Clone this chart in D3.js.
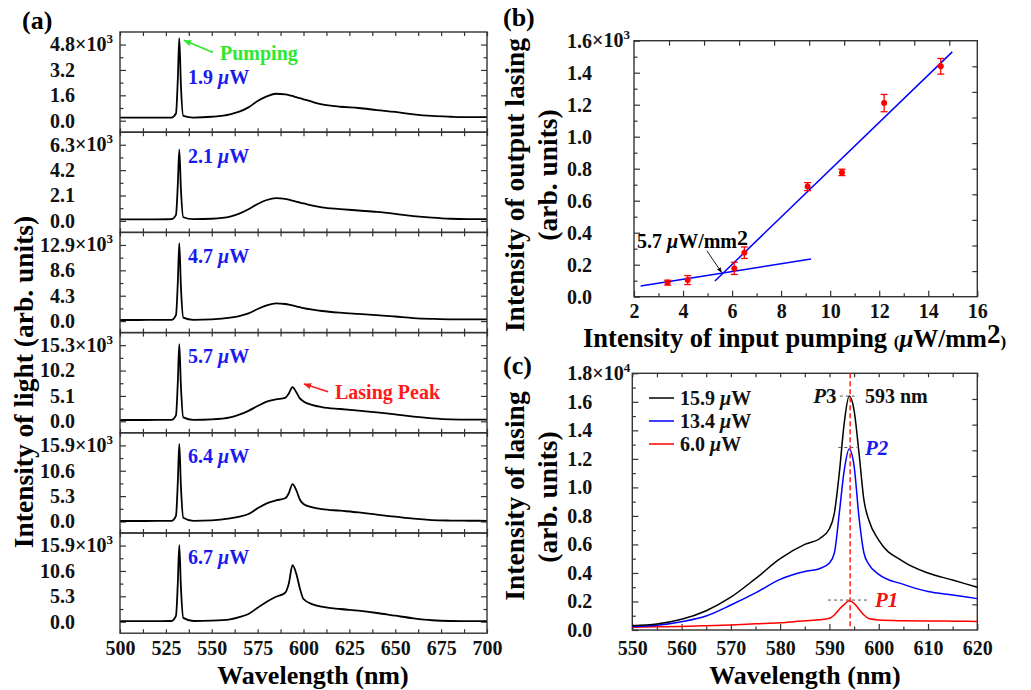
<!DOCTYPE html>
<html><head><meta charset="utf-8">
<script src="https://cdn.jsdelivr.net/npm/d3@7"></script>
<style>
body{margin:0;background:#fff}
text{font-family:"Liberation Serif","Times New Roman",serif;font-weight:bold}
</style>
</head><body>
<svg id="chart" width="1031" height="690"></svg>
<script>
// ---------------- DATA ----------------
// Panel (a): emission spectra (x10^3 arb. units)
const waveA = [500,510,520,528,530.5,531.5,532.3,533.2,534.5,540,550,560,565,570,575,580,585,590,592,594,596,598,600,605,610,620,630,640,650,660,670,680,690,700];
const spec19 = [0.19,0.19,0.2,0.2,0.45,2.6,5.2,2.2,0.3,0.2,0.25,0.4,0.57,0.84,1.24,1.53,1.7,1.66,1.62,1.56,1.48,1.42,1.35,1.18,1.03,0.88,0.8,0.67,0.55,0.4,0.3,0.25,0.22,0.22];
const spec21 = [0.13,0.13,0.13,0.14,0.5,3.0,5.9,2.6,0.3,0.14,0.18,0.35,0.6,0.96,1.4,1.73,1.88,1.83,1.76,1.68,1.6,1.52,1.45,1.27,1.12,0.98,0.86,0.74,0.58,0.4,0.27,0.18,0.15,0.15];
const spec47 = [0.19,0.19,0.2,0.2,1.0,6.5,13.2,5.8,0.6,0.22,0.3,0.58,0.85,1.3,2.05,2.67,3.0,2.9,2.8,2.65,2.5,2.35,2.2,1.93,1.71,1.42,1.22,1.03,0.78,0.52,0.38,0.3,0.3,0.3];
const spec57 = [0.26,0.26,0.27,0.3,1.2,7.8,15.5,7.0,0.8,0.3,0.4,0.8,1.35,2.1,3.07,3.94,4.4,4.7,5.6,6.85,5.9,4.6,4.0,3.27,2.87,2.47,2.13,1.8,1.4,0.92,0.6,0.4,0.35,0.33];
const spec64 = [0.1,0.1,0.12,0.15,1.2,8.2,16.2,7.3,0.8,0.15,0.25,0.66,1.0,1.57,2.75,3.8,4.4,4.85,5.9,7.8,6.6,4.6,3.65,2.95,2.6,2.25,1.9,1.42,1.0,0.58,0.3,0.2,0.16,0.15];
const spec67 = [0.1,0.1,0.12,0.15,1.2,8.0,16.0,7.2,0.8,0.15,0.22,0.5,0.95,1.6,2.92,4.17,5.2,6.05,8.0,11.8,10.1,7.0,4.74,3.63,3.13,2.65,2.3,1.82,1.25,0.7,0.3,0.15,0.13,0.13];
const spectraA = [spec19,spec21,spec47,spec57,spec64,spec67];
const powerLabelsA = ["1.9","2.1","4.7","5.7","6.4","6.7"];
const yTicksA = [[0,1.6,3.2,4.8],[0,2.1,4.2,6.3],[0,4.3,8.6,12.9],[0,5.1,10.2,15.3],[0,5.3,10.6,15.9],[0,5.3,10.6,15.9]];
const xTicksA = [500,525,550,575,600,625,650,675,700];

// Panel (b): output lasing vs pump (x10^3)
const pumpB = [3.37,4.19,6.09,6.5,9.08,10.48,12.2,14.51];
const lasingB = [0.088,0.104,0.177,0.275,0.688,0.777,1.21,1.44];
const errB = [0.015,0.028,0.038,0.036,0.025,0.02,0.054,0.049];
const fitLowB = [[2.27,0.067],[9.22,0.236]];
const fitHighB = [[5.3,0.098],[14.98,1.53]];
const xTicksB = [2,4,6,8,10,12,14,16];
const yTicksB = [0,0.2,0.4,0.6,0.8,1.0,1.2,1.4,1.6];

// Panel (c): lasing spectra (x10^4)
const waveC = [550,555,560,565,570,575,580,585,588,590,591,592,593,594,595,596,597,598,600,605,610,615,620];
const lase159 = [0.03,0.042,0.075,0.135,0.23,0.36,0.5,0.6,0.64,0.71,0.82,1.1,1.45,1.64,1.54,1.24,0.91,0.77,0.63,0.48,0.4,0.35,0.30];
const lase134 = [0.023,0.033,0.058,0.098,0.175,0.26,0.355,0.41,0.43,0.47,0.54,0.82,1.12,1.27,1.15,0.79,0.54,0.46,0.39,0.32,0.27,0.245,0.22];
const lase60  = [0.019,0.022,0.025,0.03,0.035,0.043,0.051,0.065,0.072,0.082,0.105,0.145,0.18,0.205,0.187,0.145,0.105,0.08,0.07,0.065,0.063,0.062,0.06];
const seriesC = [
  {label:"15.9", values:lase159, color:"#000000"},
  {label:"13.4", values:lase134, color:"#0000ff"},
  {label:"6.0",  values:lase60,  color:"#ff0000"}
];
const xTicksC = [550,560,570,580,590,600,610,620];
const yTicksC = [0,0.2,0.4,0.6,0.8,1.0,1.2,1.4,1.6,1.8];
const peakWaveC = 594.2;
const peakLevelsC = [1.64,1.28,0.21];

// ---------------- DRAW ----------------
const svg = d3.select("#chart");
const FONT = '"Liberation Serif","Times New Roman",serif';
const frameColor = "#333";

function styleAxis(g, size){
  g.select(".domain").remove();
  g.attr("font-family", FONT).attr("font-size", size||20).attr("font-weight","bold");
  g.selectAll(".tick line").attr("stroke", frameColor).attr("stroke-width",1.2);
  g.selectAll(".tick text").attr("fill","#111");
}
function appendExp(x, y, exp){
  const t = svg.append("text").attr("x",x).attr("y",y).attr("dy","0.32em")
    .attr("font-size",20).attr("fill","#111").text("×10");
  t.append("tspan").attr("font-size",13).attr("dy",-8).text(exp);
}
function muText(sel, before, after){
  sel.append("tspan").text(before);
  sel.append("tspan").attr("font-style","italic").text("μ");
  sel.append("tspan").text(after);
}

// ===== Panel (a) =====
const xA = d3.scaleLinear().domain([500,700]).range([120,487]);
const topA = 32, hA = 100.2;
const lineA = d3.line().curve(d3.curveMonotoneX);
let yScalesA = [];
spectraA.forEach((vals,i)=>{
  const ticks = yTicksA[i];
  const M = ticks[ticks.length-1];
  const t = topA + i*hA;
  const y = d3.scaleLinear().domain([-0.151*M, 1.165*M]).range([t+hA, t]);
  yScalesA.push(y);
  const g = svg.append("g");
  const minor = [1,3,5].map(k=>k*M/6);
  const minorX = d3.range(512.5,700,25);
  g.append("g").attr("transform",`translate(${xA(500)},0)`)
    .call(d3.axisLeft(y).tickValues(ticks).tickSize(-6).tickPadding(45).tickFormat(d3.format(".1f")))
    .call(s=>styleAxis(s));
  g.append("g").attr("transform",`translate(${xA(500)},0)`)
    .call(d3.axisLeft(y).tickValues(minor).tickSize(-3.5).tickFormat(""))
    .call(s=>styleAxis(s));
  g.append("g").attr("transform",`translate(${xA(700)},0)`)
    .call(d3.axisRight(y).tickValues(ticks).tickSize(-6).tickFormat(""))
    .call(s=>styleAxis(s));
  g.append("g").attr("transform",`translate(${xA(700)},0)`)
    .call(d3.axisRight(y).tickValues(minor).tickSize(-3.5).tickFormat(""))
    .call(s=>styleAxis(s));
  g.append("g").attr("transform",`translate(0,${t})`)
    .call(d3.axisTop(xA).tickValues(xTicksA.concat(minorX)).tickSize(-4).tickFormat(""))
    .call(s=>styleAxis(s));
  const bottom = g.append("g").attr("transform",`translate(0,${t+hA})`);
  if(i===spectraA.length-1){
    bottom.call(d3.axisBottom(xA).tickValues(xTicksA).tickSize(-4).tickPadding(8).tickFormat(d3.format("d"))).call(s=>styleAxis(s));
    g.append("g").attr("transform",`translate(0,${t+hA})`)
      .call(d3.axisBottom(xA).tickValues(minorX).tickSize(-4).tickFormat("")).call(s=>styleAxis(s));
  } else {
    bottom.call(d3.axisBottom(xA).tickValues(xTicksA.concat(minorX)).tickSize(-4).tickFormat("")).call(s=>styleAxis(s));
  }
  appendExp(xA(500)-45, y(M), "3");
  g.append("path")
    .attr("d", lineA(vals.map((v,j)=>[xA(waveA[j]), y(v)])))
    .attr("fill","none").attr("stroke","#000").attr("stroke-width",1.8).attr("stroke-linejoin","round");
  g.append("rect").attr("x",xA(500)).attr("y",t).attr("width",xA(700)-xA(500)).attr("height",hA)
    .attr("fill","none").attr("stroke",frameColor).attr("stroke-width",1.4);
  const lblY = i===0 ? t+44.5 : t+23.5;
  const lt = svg.append("text").attr("x",188).attr("y",lblY).attr("dy","0.35em")
    .attr("font-size",20).attr("fill","#1a1af0");
  muText(lt, powerLabelsA[i]+" ", "W");
});

// arrow markers
const defs = svg.append("defs");
function marker(id,color,size){
  defs.append("marker").attr("id",id).attr("viewBox","0 0 10 10").attr("refX",9).attr("refY",5)
    .attr("markerWidth",size).attr("markerHeight",size).attr("orient","auto")
    .append("path").attr("d","M0,1 L10,5 L0,9 Z").attr("fill",color);
}
marker("arG","#2ee82e",5); marker("arR","#ff1a1a",5); marker("arK","#000",6);

svg.append("line").attr("x1",xA(550.7)).attr("y1",yScalesA[0](4.3)).attr("x2",xA(534.9)).attr("y2",yScalesA[0](5.07))
  .attr("stroke","#2ee82e").attr("stroke-width",1.6).attr("marker-end","url(#arG)");
svg.append("text").attr("x",220).attr("y",52.5).attr("dy","0.35em").attr("font-size",20).attr("fill","#2ee82e").text("Pumping");
svg.append("line").attr("x1",xA(613.4)).attr("y1",yScalesA[3](5.95)).attr("x2",xA(600.3)).attr("y2",yScalesA[3](7.5))
  .attr("stroke","#ff1a1a").attr("stroke-width",1.6).attr("marker-end","url(#arR)");
svg.append("text").attr("x",335).attr("y",392).attr("dy","0.35em").attr("font-size",20).attr("fill","#ff1a1a").text("Lasing Peak");

svg.append("text").attr("x",313).attr("y",684).attr("text-anchor","middle").attr("font-size",26).text("Wavelength (nm)");
svg.append("text").attr("transform","translate(33,382) rotate(-90)").attr("text-anchor","middle").attr("font-size",27.5)
  .text("Intensity of light (arb. units)");
svg.append("text").attr("x",22).attr("y",29).attr("font-size",26).text("(a)");

// ===== Panel (b) =====
const xB = d3.scaleLinear().domain([2,16]).range([634,977.3]);
const yB = d3.scaleLinear().domain([0,1.6]).range([296.7,40.7]);
{
  const g = svg.append("g");
  g.append("g").attr("transform",`translate(0,${yB(0)})`)
    .call(d3.axisBottom(xB).tickValues(xTicksB).tickSize(-6).tickPadding(7).tickFormat(d3.format("d"))).call(s=>styleAxis(s));
  g.append("g").attr("transform",`translate(0,${yB(0)})`)
    .call(d3.axisBottom(xB).tickValues(d3.range(3,16,2)).tickSize(-3.5).tickFormat("")).call(s=>styleAxis(s));
  g.append("g").attr("transform",`translate(${xB(2)},0)`)
    .call(d3.axisLeft(yB).tickValues(yTicksB).tickSize(-6).tickPadding(42).tickFormat(d3.format(".1f"))).call(s=>styleAxis(s));
  g.append("g").attr("transform",`translate(${xB(2)},0)`)
    .call(d3.axisLeft(yB).tickValues(d3.range(0.1,1.6,0.2)).tickSize(-3.5).tickFormat("")).call(s=>styleAxis(s));
  g.append("g").attr("transform",`translate(${xB(16)},0)`)
    .call(d3.axisRight(yB).tickValues(d3.range(1,10).map(k=>k*0.16)).tickSize(-5).tickFormat("")).call(s=>styleAxis(s));
  g.append("g").attr("transform",`translate(0,${yB(1.6)})`)
    .call(d3.axisTop(xB).tickValues(d3.range(1,10).map(k=>2+k*10/7)).tickSize(-5).tickFormat("")).call(s=>styleAxis(s));
  appendExp(xB(2)-42, yB(1.6), "3");
  g.append("rect").attr("x",xB(2)).attr("y",yB(1.6)).attr("width",xB(16)-xB(2)).attr("height",yB(0)-yB(1.6))
    .attr("fill","none").attr("stroke",frameColor).attr("stroke-width",1.4);
  [fitLowB, fitHighB].forEach(f=>{
    g.append("path").attr("d", d3.line()(f.map(d=>[xB(d[0]),yB(d[1])])))
      .attr("stroke","#0000ff").attr("stroke-width",1.5).attr("fill","none");
  });
  pumpB.forEach((x,i)=>{
    const cx = xB(x), y0 = yB(lasingB[i]-errB[i]), y1 = yB(lasingB[i]+errB[i]);
    g.append("line").attr("x1",cx).attr("x2",cx).attr("y1",y0).attr("y2",y1).attr("stroke","#ff0000").attr("stroke-width",1.3);
    [y0,y1].forEach(yy=>g.append("line").attr("x1",cx-3.5).attr("x2",cx+3.5).attr("y1",yy).attr("y2",yy).attr("stroke","#ff0000").attr("stroke-width",1.3));
    g.append("circle").attr("cx",cx).attr("cy",yB(lasingB[i])).attr("r",3).attr("fill","#ff0000");
  });
  g.append("line").attr("x1",xB(4.97)).attr("y1",yB(0.2875)).attr("x2",xB(5.57)).attr("y2",yB(0.152))
    .attr("stroke","#000").attr("stroke-width",0.9).attr("marker-end","url(#arK)");
  const at = svg.append("text").attr("x",637).attr("y",248).attr("font-size",20);
  muText(at, "5.7 ", "W/mm");
  at.append("tspan").attr("font-size",22).attr("dy",-3).text("2");
  svg.append("text").attr("x",503).attr("y",26).attr("font-size",26).text("(b)");
  const xt = svg.append("text").attr("x",583).attr("y",347).attr("font-size",26.5);
  xt.append("tspan").text("Intensity of input pumping ");
  xt.append("tspan").attr("font-size",17).text("(");
  xt.append("tspan").attr("font-size",25).attr("font-style","italic").text("μ");
  xt.append("tspan").attr("font-size",25).text("W/mm");
  xt.append("tspan").attr("font-size",27).attr("dy",-4).text("2");
  xt.append("tspan").attr("font-size",17).attr("dy",4).text(")");
  svg.append("text").attr("transform","translate(524,185) rotate(-90)").attr("text-anchor","middle").attr("font-size",27.5).text("Intensity of output lasing");
  svg.append("text").attr("transform","translate(557,175) rotate(-90)").attr("text-anchor","middle").attr("font-size",27.5).text("(arb. units)");
}

// ===== Panel (c) =====
const xC = d3.scaleLinear().domain([550,620]).range([632.3,977.3]);
const yC = d3.scaleLinear().domain([0,1.8]).range([630,373.3]);
{
  const g = svg.append("g");
  const minorXC = d3.range(555,620,10);
  g.append("g").attr("transform",`translate(0,${yC(0)})`)
    .call(d3.axisBottom(xC).tickValues(xTicksC).tickSize(-6).tickPadding(11).tickFormat(d3.format("d"))).call(s=>styleAxis(s));
  g.append("g").attr("transform",`translate(0,${yC(0)})`)
    .call(d3.axisBottom(xC).tickValues(minorXC).tickSize(-3.5).tickFormat("")).call(s=>styleAxis(s));
  g.append("g").attr("transform",`translate(0,${yC(1.8)})`)
    .call(d3.axisTop(xC).tickValues(xTicksC.concat(minorXC)).tickSize(-4).tickFormat("")).call(s=>styleAxis(s));
  g.append("g").attr("transform",`translate(${xC(550)},0)`)
    .call(d3.axisLeft(yC).tickValues(yTicksC).tickSize(-6).tickPadding(40).tickFormat(d3.format(".1f"))).call(s=>styleAxis(s));
  g.append("g").attr("transform",`translate(${xC(550)},0)`)
    .call(d3.axisLeft(yC).tickValues(d3.range(0.1,1.8,0.2)).tickSize(-3.5).tickFormat("")).call(s=>styleAxis(s));
  g.append("g").attr("transform",`translate(${xC(620)},0)`)
    .call(d3.axisRight(yC).tickValues(d3.range(1,10).map(k=>k*0.18)).tickSize(-5).tickFormat("")).call(s=>styleAxis(s));
  appendExp(xC(550)-40, yC(1.8), "4");
  g.append("rect").attr("x",xC(550)).attr("y",yC(1.8)).attr("width",xC(620)-xC(550)).attr("height",yC(0)-yC(1.8))
    .attr("fill","none").attr("stroke",frameColor).attr("stroke-width",1.4);
  const lineC = d3.line().curve(d3.curveMonotoneX);
  seriesC.slice().reverse().forEach(s=>{
    g.append("path").attr("d", lineC(s.values.map((v,j)=>[xC(waveC[j]), yC(v)])))
      .attr("fill","none").attr("stroke",s.color).attr("stroke-width",1.5);
  });
  g.append("line").attr("x1",xC(peakWaveC)).attr("x2",xC(peakWaveC)).attr("y1",yC(1.8)).attr("y2",yC(0))
    .attr("stroke","#ff2020").attr("stroke-width",1.5).attr("stroke-dasharray","5,3");
  const hRanges = [[592.1,595.1],[591.8,595.6],[589.7,598.2]];
  peakLevelsC.forEach((lv,i)=>{
    g.append("line").attr("x1",xC(hRanges[i][0])).attr("x2",xC(hRanges[i][1])).attr("y1",yC(lv)).attr("y2",yC(lv))
      .attr("stroke","#555").attr("stroke-width",1).attr("stroke-dasharray","3,3");
  });
  const p3 = svg.append("text").attr("x",836.5).attr("y",yC(peakLevelsC[0])).attr("dy","0.35em").attr("text-anchor","end").attr("font-size",21).attr("fill","#111");
  p3.append("tspan").attr("font-style","italic").text("P");
  p3.append("tspan").text("3");
  svg.append("text").attr("x",865).attr("y",yC(peakLevelsC[0])).attr("dy","0.35em").attr("font-size",20).attr("fill","#111").text("593 nm");
  svg.append("text").attr("x",865).attr("y",yC(peakLevelsC[1])).attr("dy","0.35em").attr("font-size",21).attr("font-style","italic").attr("fill","#1a1af0").text("P2");
  svg.append("text").attr("x",875).attr("y",yC(peakLevelsC[2])).attr("dy","0.35em").attr("font-size",21).attr("font-style","italic").attr("fill","#f01010").text("P1");
  const legY = [398,421,444];
  seriesC.forEach((s,i)=>{
    svg.append("line").attr("x1",649).attr("x2",674).attr("y1",legY[i]).attr("y2",legY[i]).attr("stroke",s.color).attr("stroke-width",1.5);
    const lt = svg.append("text").attr("x",680).attr("y",legY[i]).attr("dy","0.35em").attr("font-size",20).attr("fill","#111");
    muText(lt, s.label+" ", "W");
  });
  svg.append("text").attr("x",503).attr("y",374).attr("font-size",26).text("(c)");
  svg.append("text").attr("x",805).attr("y",684).attr("text-anchor","middle").attr("font-size",26).text("Wavelength (nm)");
  svg.append("text").attr("transform","translate(524,496) rotate(-90)").attr("text-anchor","middle").attr("font-size",27.5).text("Intensity of lasing");
  svg.append("text").attr("transform","translate(557,497) rotate(-90)").attr("text-anchor","middle").attr("font-size",27.5).text("(arb. units)");
}
</script>
</body></html>
